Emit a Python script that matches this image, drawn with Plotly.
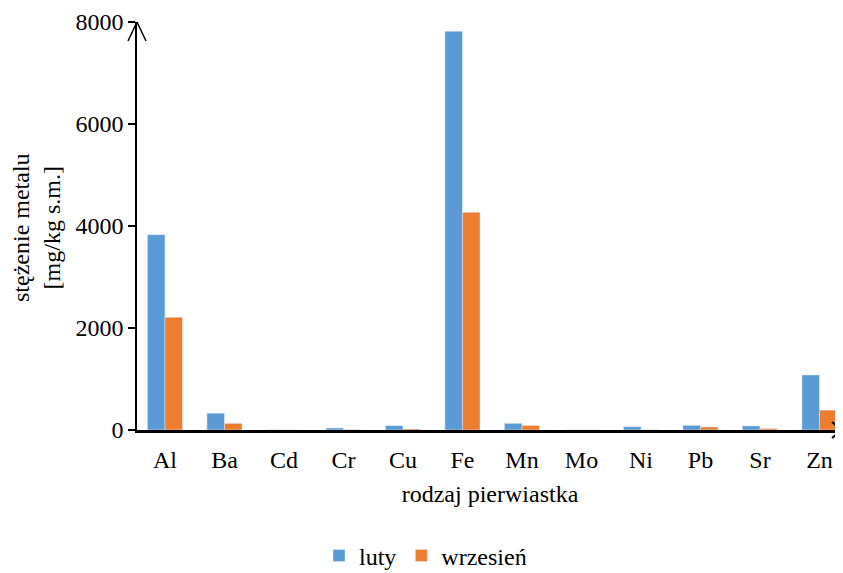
import plotly.graph_objects as go

categories = ["Al", "Ba", "Cd", "Cr", "Cu", "Fe", "Mn", "Mo", "Ni", "Pb", "Sr", "Zn"]
luty = [3830, 330, 3, 40, 85, 7820, 130, 2, 65, 90, 80, 1080]
wrzesien = [2210, 130, 2, 10, 20, 4270, 90, 2, 5, 60, 30, 390]
y_ticks = [0, 2000, 4000, 6000, 8000]

OFF = 8  # page body margin
W, H = 843 - OFF, 573 - OFF
L, R, T, B = 137 - OFF, 0, 22 - OFF, 573 - 430

FONT = dict(family="Liberation Serif, Times New Roman, serif", size=24, color="#000000")

fig = go.Figure()
fig.add_trace(go.Bar(x=categories, y=luty, name="luty", marker_color="#5B9BD5"))
fig.add_trace(go.Bar(x=categories, y=wrzesien, name="wrzesień", marker_color="#ED7D31"))

pw = W - L - R
ph = H - T - B
step = 59.5
x0 = -0.47
x1 = x0 + pw / step

def px_to_paper_x(px):
    return (px - OFF - L) / pw
def px_to_paper_y(py):
    return (H - B - (py - OFF)) / ph

shapes = []
ax_y = 430
tipx = 842
for d in (-8, 8):
    shapes.append(dict(type="line", xref="paper", yref="paper",
                       x0=px_to_paper_x(tipx - 10), y0=px_to_paper_y(ax_y + d),
                       x1=px_to_paper_x(tipx), y1=px_to_paper_y(ax_y),
                       line=dict(color="black", width=2)))
ax_x = 137
tipy = 22
for d in (-9, 9):
    shapes.append(dict(type="line", xref="paper", yref="paper",
                       x0=px_to_paper_x(ax_x + d), y0=px_to_paper_y(tipy + 19),
                       x1=px_to_paper_x(ax_x), y1=px_to_paper_y(tipy),
                       line=dict(color="black", width=1.5)))

annotations = [dict(text="stężenie metalu<br>[mg/kg s.m.]", textangle=-90,
                    xref="paper", yref="paper",
                    x=px_to_paper_x(36), y=px_to_paper_y(228),
                    xanchor="center", yanchor="middle", showarrow=False, font=FONT)]

fig.update_layout(
    width=W, height=H,
    margin=dict(l=L, r=R, t=T, b=B, autoexpand=False),
    paper_bgcolor="white", plot_bgcolor="white",
    font=FONT,
    barmode="group", bargap=0.41, bargroupgap=0,
    showlegend=True,
    legend=dict(orientation="h", x=0.50, xref="container", xanchor="center",
                y=px_to_paper_y(556), yref="paper", yanchor="middle",
                font=FONT, itemwidth=30, traceorder="normal"),
    xaxis=dict(range=[x0, x1], showgrid=False, showline=True, linecolor="black", linewidth=2.5,
               ticks="", tickfont=FONT, zeroline=False, ticklabelstandoff=6,
               title=dict(text="rodzaj pierwiastka", font=FONT, standoff=14)),
    yaxis=dict(range=[0, 8000], tickvals=y_ticks, showgrid=False, showline=True,
               linecolor="black", linewidth=1.5, ticks="outside", ticklen=7, tickcolor="black",
               tickwidth=1.5, tickfont=FONT, zeroline=False, ticksuffix="\u00a0\u00a0"),
    shapes=shapes,
    annotations=annotations,
)

fig.write_html("out.html")
